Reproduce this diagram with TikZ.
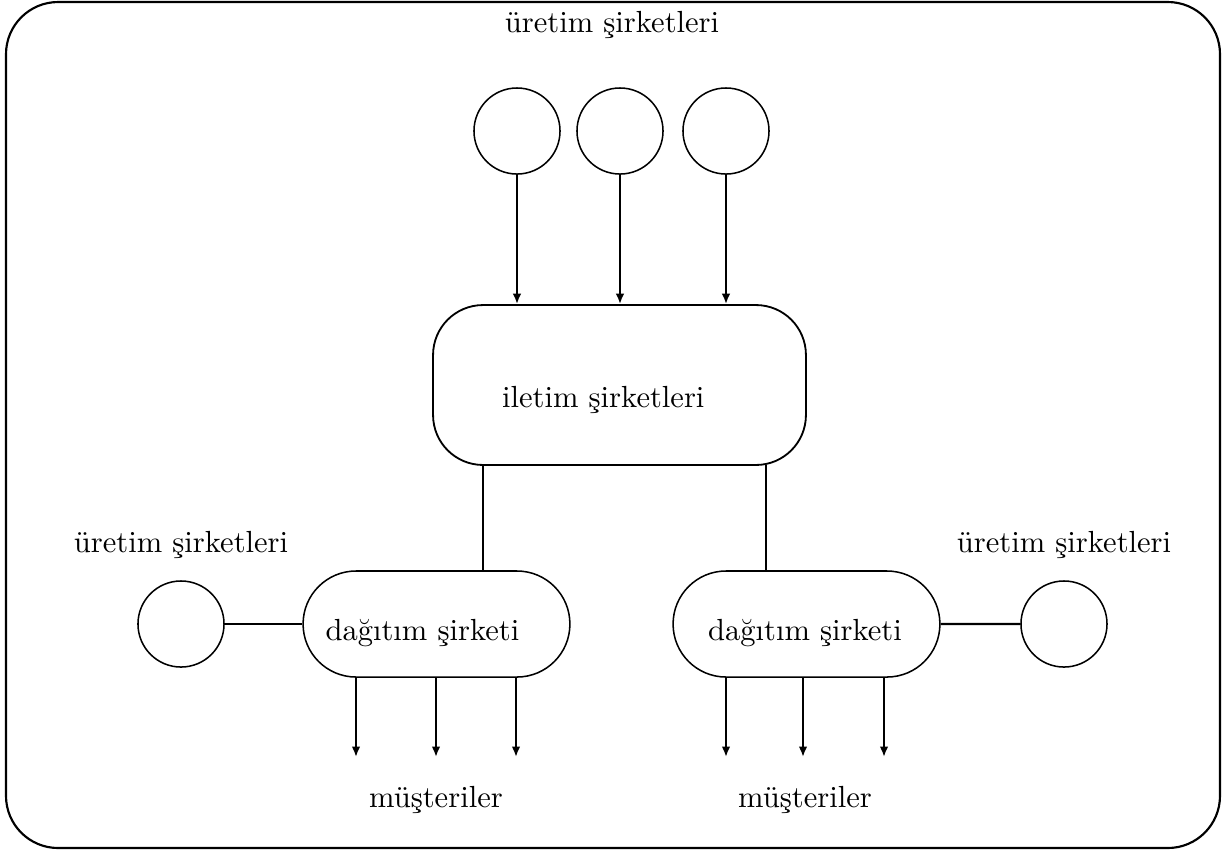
\documentclass[tikz,border=0pt]{standalone}
\usepackage{tikz}
\usetikzlibrary{arrows.meta,shapes.misc}
\tikzset{
  flow/.style={-{Latex[length=3.4pt, width=2.8pt]}, line width=0.75pt},
  link/.style={line width=0.7pt},
  plant/.style={draw, circle, line width=0.5pt, minimum size=0.99cm, inner sep=0pt},
  transbox/.style={draw, rounded corners=0.575cm, line width=0.6pt, minimum width=4.29cm, minimum height=1.84cm},
  distbox/.style={draw, rounded rectangle, line width=0.5pt, minimum width=3.07cm, minimum height=1.22cm, inner sep=0pt},
  lbl/.style={inner sep=1pt}
}

\begin{document}
\begin{tikzpicture}[x=0.0115cm, y=-0.0115cm]
  \useasboundingbox (0,0) rectangle (1226,850);
  \draw[line width=0.7pt, rounded corners=0.6cm] (6,2) rectangle (1220,848);

  % generation companies on top
  \node[lbl] (gentop) at (612,25) {üretim şirketleri};
  \node[plant] (g1) at (517,131) {};
  \node[plant] (g2) at (620,131) {};
  \node[plant] (g3) at (726,131) {};

  % transmission
  \node[transbox, label={[xshift=-5.3pt, yshift=-5pt]center:iletim şirketleri}] (iletim) at (619.5,385) {};

  \draw[flow] (g1) -- (g1 |- iletim.north);
  \draw[flow] (g2) -- (g2 |- iletim.north);
  \draw[flow] (g3) -- (g3 |- iletim.north);

  % distribution
  \node[distbox, label={[xshift=-4.6pt, yshift=-3pt]center:dağıtım şirketi}] (dleft) at (436.5,624) {};
  \node[distbox, label={[xshift=-0.5pt, yshift=-3pt]center:dağıtım şirketi}] (dright) at (806.5,624) {};

  \coordinate (t1) at (483,465);
  \coordinate (t2) at (766,465);
  \draw[link] (t1) -- (t1 |- dleft.north);
  \draw[link] (t2) -- (t2 |- dright.north);

  % local generation
  \node[lbl] (genleft) at (181,545) {üretim şirketleri};
  \node[plant] (g4) at (181,624) {};
  \node[lbl] (genright) at (1064,545) {üretim şirketleri};
  \node[plant] (g5) at (1064,624) {};

  \draw[link] (g4) -- (dleft);
  \draw[link] (dright) -- (g5);

  % customers
  \node[lbl] (mleft) at (436,800) {müşteriler};
  \node[lbl] (mright) at (805,800) {müşteriler};

  \foreach \x in {356,436,516}
    \draw[flow] (\x,677) -- (\x,757);
  \foreach \x in {726,803,884}
    \draw[flow] (\x,677) -- (\x,757);
\end{tikzpicture}
\end{document}
